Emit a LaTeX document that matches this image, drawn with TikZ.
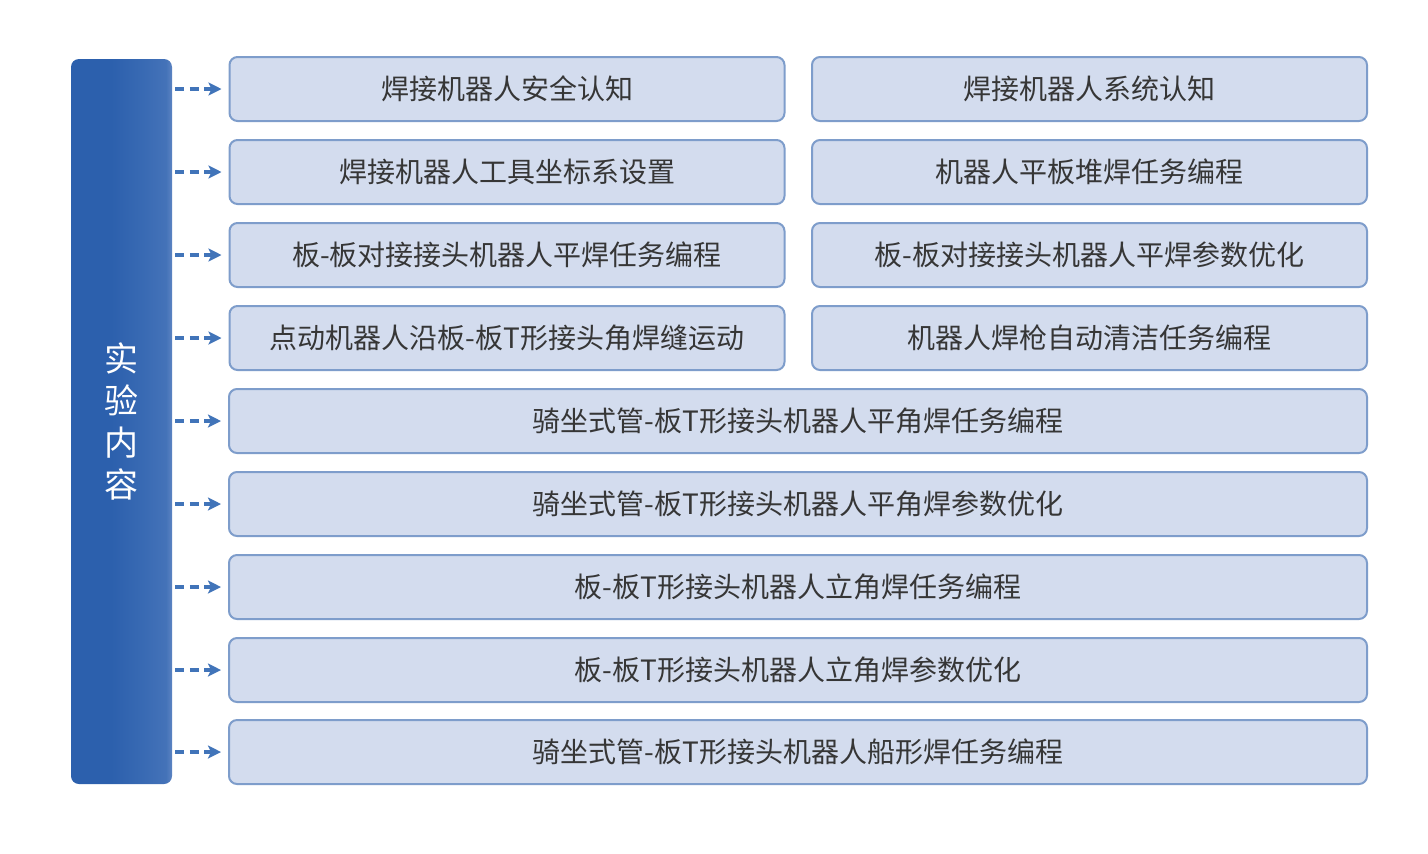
\documentclass[tikz,border=0pt]{standalone}
\usepackage{fontspec}
\newfontfamily\cjk{Noto Sans CJK SC}
\usetikzlibrary{arrows.meta,calc}
\definecolor{boxfill}{HTML}{D3DCEE}
\definecolor{boxline}{HTML}{7E9DCB}
\definecolor{txt}{HTML}{363636}
\definecolor{barL}{HTML}{2C60AD}
\definecolor{barM}{HTML}{3A6BB4}
\definecolor{barR}{HTML}{5C84C2}
\definecolor{arr}{HTML}{4174B9}
\pgfdeclarehorizontalshading{barshade}{100bp}{color(0bp)=(barL); color(25bp)=(barL); color(45bp)=(barL); color(62bp)=(barM); color(72bp)=(barM!70!barR); color(75bp)=(barR); color(100bp)=(barR)}
\tikzset{
  itembox/.style={draw=boxline, line width=1pt, fill=boxfill, rounded corners=4pt,
    minimum height=32pt, inner sep=0pt, text=txt, font=\cjk\fontsize{14pt}{16pt}\selectfont},
  half/.style={itembox, minimum width=277.5pt},
  full/.style={itembox, minimum width=569pt},
  link/.style={arr, line width=1.6pt, dash pattern=on 4.4pt off 2.8pt,
    -{Stealth[length=6.5pt,width=6.5pt,inset=1.5pt]}, shorten <=1.5pt, shorten >=3.5pt}
}
\begin{document}
\begin{tikzpicture}[x=0.5pt,y=-0.5pt]
\useasboundingbox (0,0) rectangle (1428,853);
\fill[white] (0,0) rectangle (1428,853);
\node[rounded corners=4pt, shading=barshade, minimum width=50.5pt, minimum height=362.5pt, inner sep=0pt] (bar) at (121.5,421.5) {};
\node[text=white, font=\cjk\fontsize{17pt}{21pt}\selectfont, align=center] (barlabel) at (121.5,421) {实\\验\\内\\容};
% rows 1-4: two columns
\node[half] (a1) at (507,89) {焊接机器人安全认知};
\node[half] (b1) at (1089.5,89) {焊接机器人系统认知};
\node[half] (a2) at (507,172) {焊接机器人工具坐标系设置};
\node[half] (b2) at (1089.5,172) {机器人平板堆焊任务编程};
\node[half] (a3) at (507,255) {板-板对接接头机器人平焊任务编程};
\node[half] (b3) at (1089.5,255) {板-板对接接头机器人平焊参数优化};
\node[half] (a4) at (507,338) {点动机器人沿板-板T形接头角焊缝运动};
\node[half] (b4) at (1089.5,338) {机器人焊枪自动清洁任务编程};
\node[full] (a5) at (798,421) {骑坐式管-板T形接头机器人平角焊任务编程};
\node[full] (a6) at (798,504) {骑坐式管-板T形接头机器人平角焊参数优化};
\node[full] (a7) at (798,587) {板-板T形接头机器人立角焊任务编程};
\node[full] (a8) at (798,670) {板-板T形接头机器人立角焊参数优化};
\node[full] (a9) at (798,752) {骑坐式管-板T形接头机器人船形焊任务编程};
\foreach \n in {a1,a2,a3,a4,a5,a6,a7,a8,a9}
  \draw[link] (bar.east |- \n.west) -- (\n.west);
\end{tikzpicture}
\end{document}
